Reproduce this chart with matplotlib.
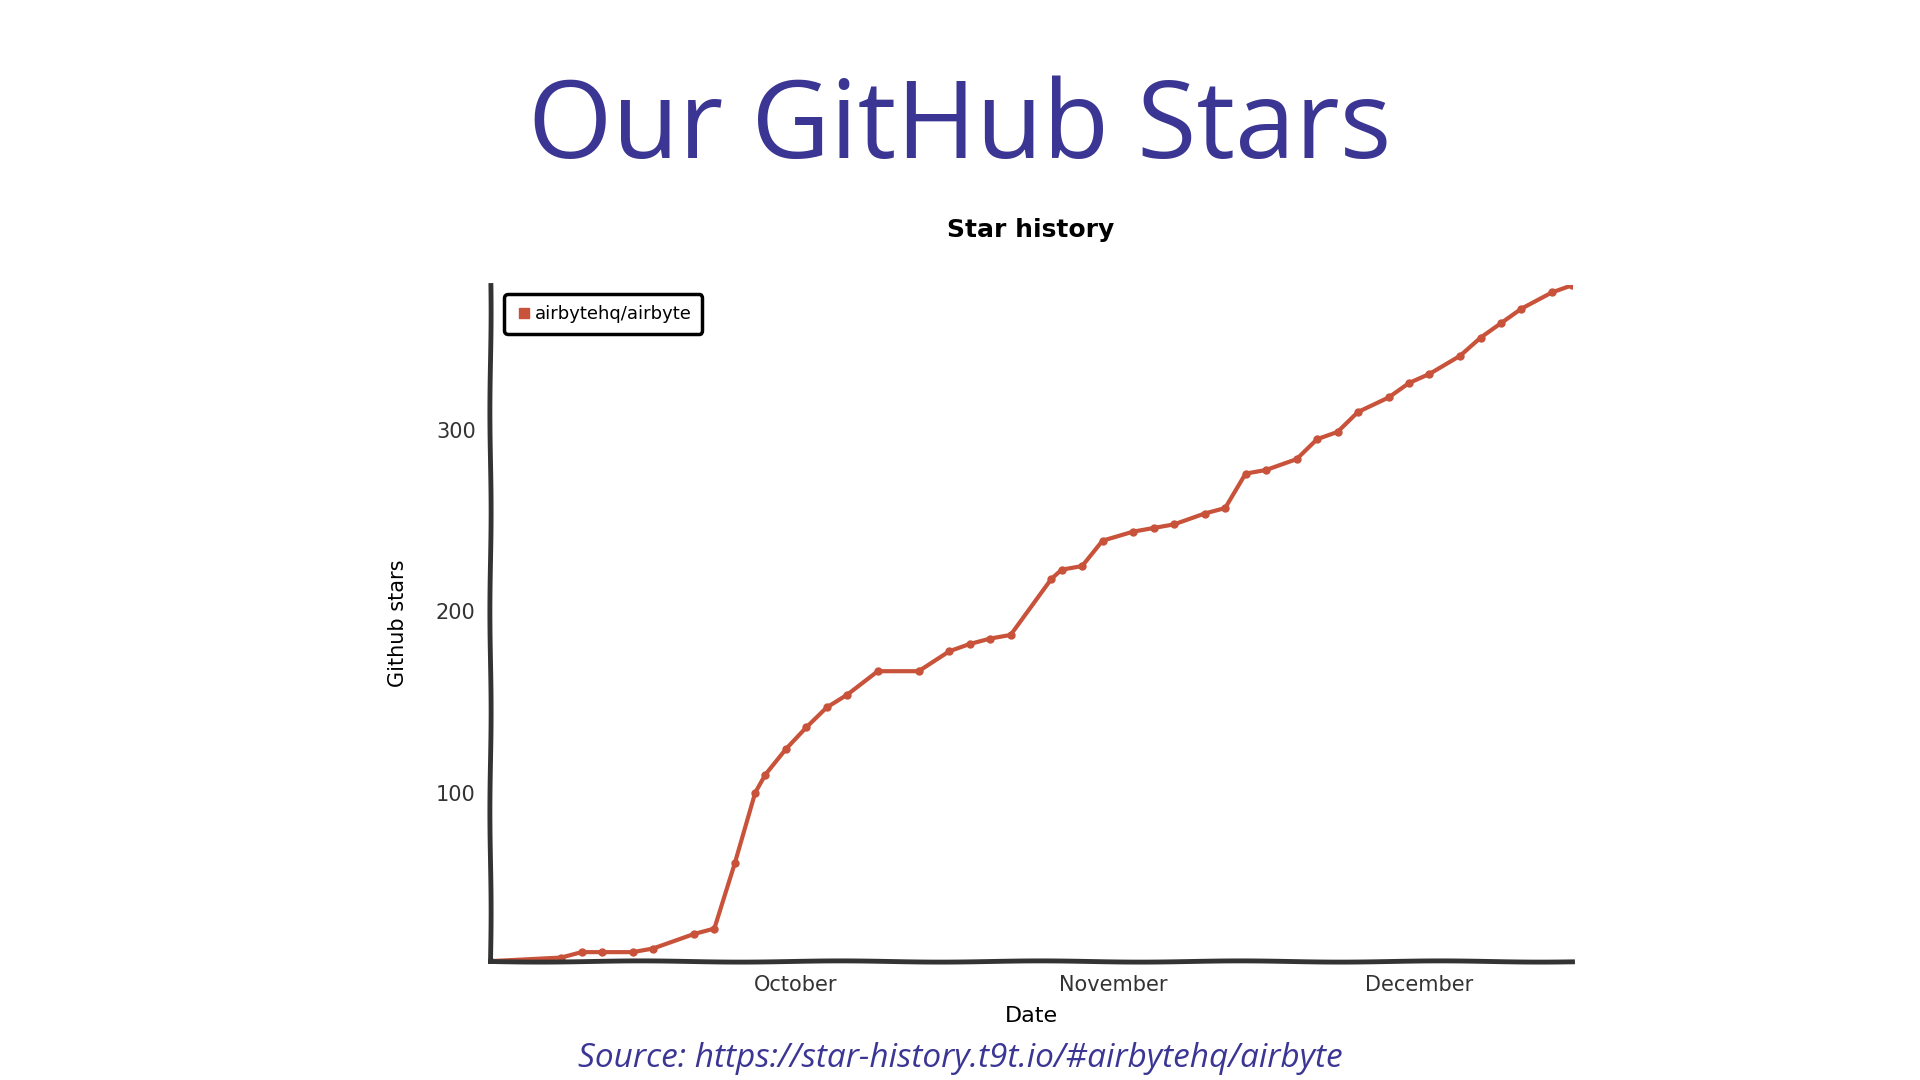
import matplotlib.pyplot as plt
import matplotlib.dates as mdates
from matplotlib.lines import Line2D
import datetime

# days since 2020-09-01 and star counts
day_offsets = [0, 7, 9, 11, 14, 16, 20, 22, 24, 26, 27, 29, 31, 33, 35, 38, 42, 45, 47, 49,
               51, 55, 56, 58, 60, 63, 65, 67, 70, 72, 74, 76, 79, 81, 83, 85, 88, 90, 92,
               95, 97, 99, 101, 104, 106]
stars = [7, 9, 12, 12, 12, 14, 22, 25, 61, 100, 110, 124, 136, 147, 154, 167, 167, 178, 182, 185,
         187, 218, 223, 225, 239, 244, 246, 248, 254, 257, 276, 278, 284, 295, 299, 310, 318, 326, 331,
         341, 351, 359, 367, 376, 380]
y_ticks = [100, 200, 300]
series_name = "airbytehq/airbyte"

start = datetime.date(2020, 9, 1)
dates = [start + datetime.timedelta(days=d) for d in day_offsets]

line_col = "#c8523a"
fig = plt.figure(figsize=(19.2, 10.8), dpi=100)
fig.text(0.5, 0.88, "Our GitHub Stars", ha="center", va="center",
         fontsize=78, color="#3b3593", family="Open Sans")
fig.text(0.5, 0.02, "Source: https://star-history.t9t.io/#airbytehq/airbyte", ha="center",
         va="center", fontsize=24, color="#3b3593", style="italic", family="Open Sans")

ax = fig.add_axes([0.255, 0.11, 0.564, 0.626])
ax.plot(dates, stars, color=line_col, lw=3, marker="o", ms=5)
ax.set_xlim(dates[0], dates[-1])
ax.set_ylim(stars[0], stars[-1])
ax.set_yticks(y_ticks)
ax.xaxis.set_major_locator(mdates.MonthLocator(bymonth=[10, 11, 12]))
ax.xaxis.set_major_formatter(mdates.DateFormatter("%B"))
ax.tick_params(length=0, labelsize=15, colors="#333333", pad=10)
for s in ["top", "right"]:
    ax.spines[s].set_visible(False)
for s in ["left", "bottom"]:
    ax.spines[s].set_linewidth(3.5)
    ax.spines[s].set_color("#333333")
    ax.spines[s].set_sketch_params(0.6, 200, 1)
ax.set_title("Star history", fontsize=18, fontweight="bold", pad=35)
ax.set_xlabel("Date", fontsize=16, labelpad=8)
ax.set_ylabel("Github stars", fontsize=15, labelpad=20)

handle = Line2D([], [], color=line_col, marker="s", ls="", ms=7)
leg = ax.legend([handle], [series_name], loc="upper left", fontsize=13,
                fancybox=True, framealpha=1, edgecolor="black",
                handletextpad=0.1, handlelength=1.0, borderpad=0.6,
                bbox_to_anchor=(0.005, 1.0))
leg.get_frame().set_linewidth(2.5)

fig.savefig("out.png", dpi=100)
